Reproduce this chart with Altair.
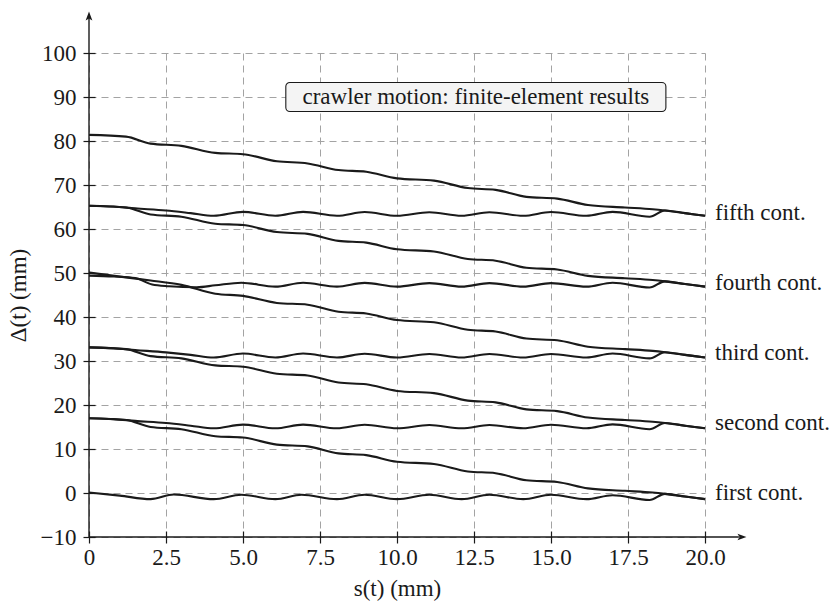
import altair as alt
import pandas as pd

# ---------------- data ----------------
X_TICKS = [0, 2.5, 5.0, 7.5, 10.0, 12.5, 15.0, 17.5, 20.0]
Y_TICKS = [-10, 0, 10, 20, 30, 40, 50, 60, 70, 80, 90, 100]

# descending (crawling) curves
S_DESC = [0, 1.2, 2.0, 3.0, 4.1, 5.0, 6.1, 7.1, 8.1, 9.0, 10.0, 11.2, 12.3, 13.2,
          14.2, 15.2, 16.2, 17.4, 18.3, 18.7, 19.35, 20.0]
DESC_1 = [17.0, 16.6, 15.0, 14.5, 12.9, 12.6, 11.0, 10.6, 9.0, 8.6, 7.1, 6.6, 4.9, 4.5,
          2.9, 2.5, 1.05, 0.5, 0.1, -0.2, -0.8, -1.4]
DESC_2 = [33.1, 32.7, 31.1, 30.6, 29.0, 28.7, 27.1, 26.7, 25.1, 24.7, 23.2, 22.7, 21.0, 20.6,
          19.0, 18.6, 17.15, 16.6, 16.2, 15.9, 15.3, 14.7]
DESC_3 = [50.1, 49.0, 48.3, 47.3, 45.3, 44.8, 43.2, 42.8, 41.2, 40.8, 39.3, 38.8, 37.1, 36.7,
          35.1, 34.7, 33.25, 32.7, 32.3, 32.0, 31.4, 30.8]
DESC_4 = [65.3, 64.9, 63.3, 62.8, 61.2, 60.9, 59.3, 58.9, 57.3, 56.9, 55.4, 54.9, 53.2, 52.8,
          51.2, 50.8, 49.35, 48.8, 48.4, 48.1, 47.5, 46.9]
DESC_5 = [81.4, 81.0, 79.4, 78.9, 77.3, 77.0, 75.4, 74.9, 73.4, 73.0, 71.5, 71.0, 69.3, 68.9,
          67.3, 66.9, 65.45, 64.9, 64.5, 64.2, 63.6, 63.0]

# contact curves
S_CONT1 = [0, 1.0, 2.0, 2.75, 4.05, 4.95, 6.05, 6.9, 8.05, 8.95, 10.0, 11.05, 12.1, 13.0,
           14.1, 15.0, 16.15, 17.0, 18.2, 18.7, 19.35, 20.0]
CONT_1 = [0.1, -0.6, -1.4, -0.35, -1.4, -0.4, -1.4, -0.4, -1.4, -0.4, -1.4, -0.4, -1.4, -0.4,
          -1.4, -0.4, -1.4, -0.5, -1.6, -0.2, -0.8, -1.4]

S_CONT = [0, 0.8, 1.5, 2.5, 3.3, 4.05, 5.0, 6.05, 6.95, 8.05, 8.95, 10.0, 11.05, 12.1, 13.0,
          14.1, 15.0, 16.15, 17.0, 18.2, 18.7, 19.35, 20.0]
CONT_2 = [17.0, 16.8, 16.4, 15.9, 15.3, 14.7, 15.55, 14.7, 15.55, 14.7, 15.5, 14.7, 15.45, 14.7,
          15.45, 14.7, 15.5, 14.7, 15.6, 14.5, 15.9, 15.3, 14.7]
CONT_3 = [33.1, 32.9, 32.5, 31.95, 31.4, 30.8, 31.7, 30.8, 31.7, 30.8, 31.65, 30.8, 31.6, 30.8,
          31.6, 30.8, 31.6, 30.8, 31.7, 30.6, 32.0, 31.4, 30.8]
CONT_5 = [65.3, 65.1, 64.7, 64.2, 63.6, 63.0, 63.9, 63.0, 63.9, 63.0, 63.85, 63.0, 63.8, 63.0,
          63.8, 63.0, 63.85, 63.0, 63.9, 62.8, 64.2, 63.6, 63.0]

S_CONT4 = [0, 0.8, 1.5, 2.05, 2.6, 3.5, 4.1, 4.95, 6.05, 6.95, 8.05, 8.95, 10.0, 11.05, 12.1,
           13.0, 14.1, 15.0, 16.15, 17.0, 18.2, 18.7, 19.35, 20.0]
CONT_4 = [49.4, 49.2, 48.85, 47.4, 47.0, 46.75, 47.2, 47.8, 46.9, 47.8, 46.9, 47.75, 46.9, 47.7,
          46.9, 47.7, 46.9, 47.7, 46.9, 47.8, 46.7, 48.1, 47.5, 46.9]

LABELS = ["first cont.", "second cont.", "third cont.", "fourth cont.", "fifth cont."]
LABEL_Y = [0.0, 15.9, 31.8, 47.7, 63.6]

NOTE = "crawler motion: finite-element results"

# ---------------- build tables ----------------
series = [
    ("d1", S_DESC, DESC_1), ("d2", S_DESC, DESC_2), ("d3", S_DESC, DESC_3),
    ("d4", S_DESC, DESC_4), ("d5", S_DESC, DESC_5),
    ("c1", S_CONT1, CONT_1), ("c2", S_CONT, CONT_2), ("c3", S_CONT, CONT_3),
    ("c4", S_CONT4, CONT_4), ("c5", S_CONT, CONT_5),
]
rows = []
for name, ss, vv in series:
    for a, b in zip(ss, vv):
        rows.append({"line": name, "s": a, "v": b})
df = pd.DataFrame(rows)

lab_df = pd.DataFrame({"label": LABELS, "v": LABEL_Y, "s": [20.0] * len(LABELS)})

FONT = "Liberation Serif"
INK = "#1a1a1a"
FS = 23

xscale = alt.Scale(domain=[0, 20], nice=False, zero=False)
yscale = alt.Scale(domain=[-10, 100], nice=False, zero=False)

x_axis = alt.Axis(
    values=X_TICKS, labelExpr="datum.value == 0 ? '0' : format(datum.value, '.1f')",
    domain=False, ticks=True, tickSize=12, offset=-6, tickColor=INK, tickWidth=1.2,
    labelPadding=3, labelFontSize=FS, labelColor=INK, labelFont=FONT, labelFlush=False,
    labelOverlap=False,
    grid=True, gridDash=[7, 5], gridColor="#a3a3a3", gridWidth=1,
    title="s(t) (mm)", titleFontSize=FS, titleFont=FONT, titleFontWeight="normal",
    titleColor=INK, titlePadding=8,
)
y_axis = alt.Axis(
    values=Y_TICKS, labelExpr="datum.value < 0 ? '\u2212' + abs(datum.value) : datum.value",
    domain=False, ticks=True, tickSize=12, offset=-6, tickColor=INK, tickWidth=1.2,
    labelPadding=7, labelFontSize=FS, labelColor=INK, labelFont=FONT, labelFlush=False,
    labelOverlap=False,
    grid=True, gridDash=[7, 5], gridColor="#a3a3a3", gridWidth=1,
    title="\u0394(t) (mm)", titleFontSize=FS, titleFont=FONT, titleFontWeight="normal",
    titleColor=INK, titlePadding=10,
)


def X(field):
    return alt.X(field, scale=xscale, axis=x_axis)


def Y(field):
    return alt.Y(field, scale=yscale, axis=y_axis)


lines = alt.Chart(df).mark_line(interpolate="monotone", color=INK, strokeWidth=2.1).encode(
    x=X("s:Q"), y=Y("v:Q"), detail="line:N",
)

# axis lines with arrow heads
xline = alt.Chart(pd.DataFrame({"s": [0.0], "s2": [21.1], "v": [-10.0]})).mark_rule(
    color=INK, strokeWidth=1.4).encode(x=X("s:Q"), x2="s2:Q", y=Y("v:Q"))
yline = alt.Chart(pd.DataFrame({"s": [0.0], "v": [-10.0], "v2": [108.0]})).mark_rule(
    color=INK, strokeWidth=1.4).encode(x=X("s:Q"), y=Y("v:Q"), y2="v2:Q")
xarrow = alt.Chart(pd.DataFrame({"s": [21.2], "v": [-10.0]})).mark_point(
    shape="M1,0L-1,0.75L-0.55,0L-1,-0.75Z", filled=True, size=80, color=INK, opacity=1).encode(
    x=X("s:Q"), y=Y("v:Q"))
yarrow = alt.Chart(pd.DataFrame({"s": [0.0], "v": [108.4]})).mark_point(
    shape="M0,-1L0.75,1L0,0.55L-0.75,1Z", filled=True, size=80, color=INK, opacity=1).encode(
    x=X("s:Q"), y=Y("v:Q"))

# annotation box
box = alt.Chart(pd.DataFrame({"s": [6.39], "b": [18.73], "v": [86.7], "hi": [93.3]})).mark_rect(
    fill="#f4f4f4", stroke=INK, strokeWidth=1.1, cornerRadius=4).encode(
    x=X("s:Q"), x2="b:Q", y=Y("v:Q"), y2="hi:Q")
note = alt.Chart(pd.DataFrame({"s": [12.56], "v": [90.0], "t": [NOTE]})).mark_text(
    font=FONT, fontSize=FS, color=INK, align="center", baseline="middle").encode(
    x=X("s:Q"), y=Y("v:Q"), text="t:N")

labels = alt.Chart(lab_df).mark_text(
    font=FONT, fontSize=FS, color=INK, align="left", baseline="middle", dx=10).encode(
    x=X("s:Q"), y=Y("v:Q"), text="label:N")

chart = alt.layer(lines, xline, yline, xarrow, yarrow, box, note, labels).properties(
    width=616, height=484,
    autosize=alt.AutoSizeParams(type="none"),
    padding={"left": 89, "top": 53, "right": 129, "bottom": 67},
).configure(font=FONT, background="white").configure_view(stroke=None)

chart.save("out.html", embed_options={"renderer": "svg", "actions": False})
